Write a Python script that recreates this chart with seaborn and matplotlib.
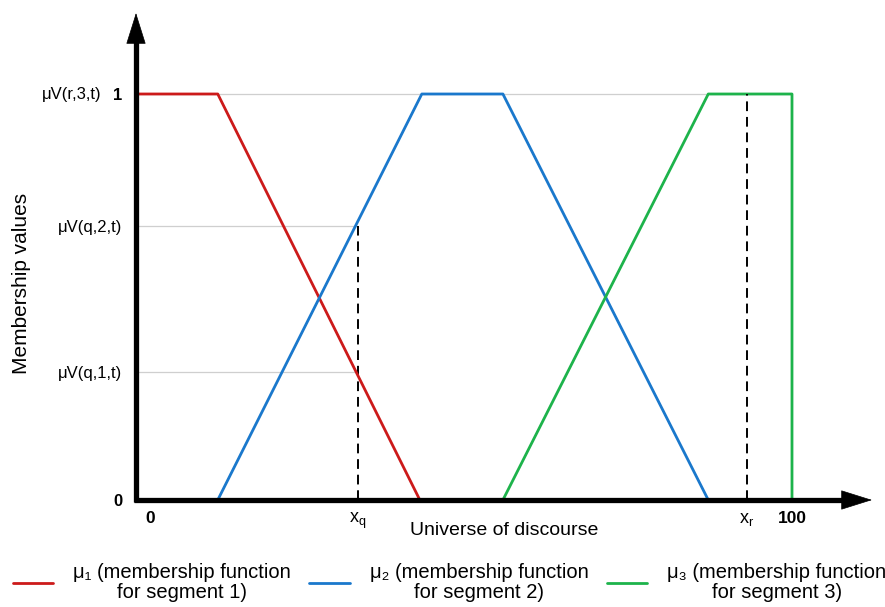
import pandas as pd
import matplotlib
matplotlib.use("Agg")
import matplotlib.pyplot as plt
import matplotlib.transforms as mtrans
import seaborn as sns

# dados das funcoes de pertinencia (universo 0..100)
segment_labels = [
    "μ₁ (membership function\nfor segment 1)",
    "μ₂ (membership function\nfor segment 2)",
    "μ₃ (membership function\nfor segment 3)",
]
red_x = [0, 12.2, 43.1]
red_y = [1, 1, 0]
blue_x = [12.2, 43.4, 55.8, 87.2]
blue_y = [0, 1, 1, 0]
green_x = [55.8, 87.2, 100, 100]
green_y = [0, 1, 1, 0]
colors = ["#cc1a1a", "#1a78cc", "#1db34b"]

xq = 33.6
xr = 93.1
mu_q1 = 0.315
mu_q2 = 0.675
mu_r3 = 1.0

ytick_vals = [0, mu_q1, mu_q2, mu_r3]
ytick_labels = ["0", "μV(q,1,t)", "μV(q,2,t)", "1"]
xtick_vals = [0, xq, xr, 100]
xtick_labels = ["0", r"x$_\mathrm{q}$", r"x$_\mathrm{r}$", "100"]

sns.set_style("white")
plt.rcParams["font.family"] = ["Liberation Sans", "DejaVu Sans"]
plt.rcParams["mathtext.fontset"] = "custom"
plt.rcParams["mathtext.rm"] = "Liberation Sans"
plt.rcParams["mathtext.it"] = "Liberation Sans:italic"
for k in ["text.color", "axes.labelcolor", "xtick.color", "ytick.color"]:
    plt.rcParams[k] = "black"

rows = []
for lab, xs, ys in zip(segment_labels, [red_x, blue_x, green_x], [red_y, blue_y, green_y]):
    for x, y in zip(xs, ys):
        rows.append({"x": x, "y": y, "seg": lab})
df = pd.DataFrame(rows)

fig = plt.figure(figsize=(8.85, 6.07), dpi=100)
W, H = 885, 607
ax = fig.add_axes([136 / W, (H - 500) / H, (872 - 136) / W, (500 - 13) / H])

# linhas guia cinzas
ax.plot([0, 100], [mu_r3, mu_r3], color="#cfcfcf", lw=0.9, zorder=1)
ax.plot([0, xq], [mu_q2, mu_q2], color="#cfcfcf", lw=0.9, zorder=1)
ax.plot([0, xq], [mu_q1, mu_q1], color="#cfcfcf", lw=0.9, zorder=1)

sns.lineplot(data=df, x="x", y="y", hue="seg", palette=colors, sort=False,
             estimator=None, linewidth=2.0, ax=ax, zorder=3)

# tracejadas
ax.plot([xq, xq], [0, mu_q2], color="black", lw=1.4, ls=(0, (5, 3)), zorder=2)
ax.plot([xr, xr], [0, mu_r3], color="black", lw=1.4, ls=(0, (5, 3)), zorder=4)

ax.set_xlim(-0.3, (872 - 138) / 6.54)
ax.set_ylim(0, (500 - 13) / 406)

for s in ax.spines.values():
    s.set_visible(False)

# eixos com setas: haste grossa + ponta triangular
ax.plot([-0.003, 0.96], [0, 0], transform=ax.transAxes, color="black", lw=3.8,
        solid_capstyle="butt", clip_on=False, zorder=5)
ax.plot([0, 0], [-0.005, 0.95], transform=ax.transAxes, color="black", lw=3.8,
        solid_capstyle="butt", clip_on=False, zorder=5)
head_kw = dict(arrowstyle="-|>,head_length=1.05,head_width=0.33", lw=0.5,
               color="black", mutation_scale=20, shrinkA=0, shrinkB=0)
ax.annotate("", xy=(1.0, 0), xytext=(0.95, 0), xycoords="axes fraction",
            arrowprops=head_kw, annotation_clip=False, zorder=6)
ax.annotate("", xy=(0, 1.0), xytext=(0, 0.93), xycoords="axes fraction",
            arrowprops=head_kw, annotation_clip=False, zorder=6)

ax.set_yticks(ytick_vals)
ax.set_yticklabels(ytick_labels, fontsize=12)
ax.set_xticks(xtick_vals)
ax.set_xticklabels(xtick_labels, fontsize=13)
ax.tick_params(axis="both", length=0)
ax.tick_params(axis="y", pad=10)
ax.tick_params(axis="x", pad=8)
for t in ax.get_yticklabels():
    if t.get_text() in ("0", "1"):
        t.set_fontweight("bold")
        t.set_fontsize(12)
for t in ax.get_xticklabels():
    if t.get_text() in ("0", "100"):
        t.set_fontweight("bold")
        t.set_fontsize(12.5)
# deslocar o "0" do eixo x um pouco para a direita
xl = ax.get_xticklabels()
xl[0].set_transform(xl[0].get_transform() + mtrans.ScaledTranslation(12 / 100, 0, fig.dpi_scale_trans))

ax.text(-0.047, mu_r3, "μV(r,3,t)", transform=ax.get_yaxis_transform(),
        ha="right", va="center", fontsize=12)

ax.set_xlabel("Universe of discourse", fontsize=14, labelpad=-7)
ax.set_ylabel("Membership values", fontsize=15)
ax.yaxis.set_label_coords(-0.143, 0.445)

handles, labels = ax.get_legend_handles_labels()
ax.get_legend().remove()
leg = fig.legend(handles, labels, loc="lower center", bbox_to_anchor=(0.508, -0.022),
                 ncol=3, frameon=False, fontsize=14.5, handlelength=2.0,
                 columnspacing=0.9, handletextpad=1.0)
for t in leg.get_texts():
    t.set_multialignment("center")
    t.set_linespacing(1.1)

fig.savefig("out.png", dpi=100)
